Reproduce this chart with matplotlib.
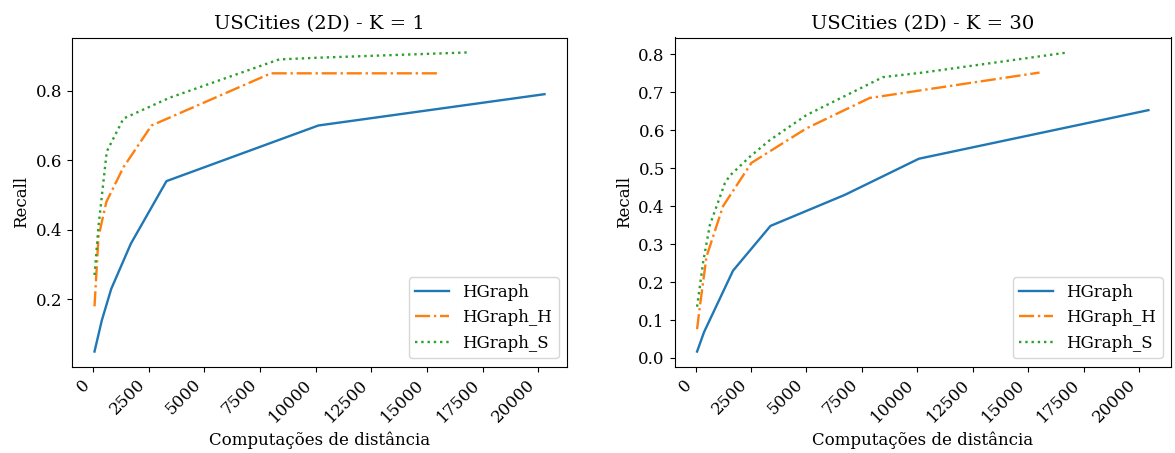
import matplotlib
matplotlib.use("Agg")
import matplotlib.pyplot as plt

plt.rcParams['font.family'] = ['DejaVu Serif']

# K = 1
k1_hgraph_x = [70, 400, 820, 1700, 3300, 10120, 20270]
k1_hgraph_y = [0.05, 0.14, 0.23, 0.36, 0.54, 0.70, 0.79]
k1_h_x = [70, 250, 600, 1370, 2630, 7990, 15470]
k1_h_y = [0.18, 0.38, 0.48, 0.58, 0.70, 0.85, 0.85]
k1_s_x = [70, 250, 620, 1370, 3450, 8360, 10150, 16800]
k1_s_y = [0.27, 0.41, 0.625, 0.72, 0.78, 0.89, 0.895, 0.91]

# K = 30
k30_hgraph_x = [70, 390, 1690, 3380, 6740, 10070, 20420]
k30_hgraph_y = [0.017, 0.069, 0.23, 0.348, 0.43, 0.525, 0.653]
k30_h_x = [70, 195, 495, 1240, 2520, 5000, 7850, 15510]
k30_h_y = [0.076, 0.135, 0.267, 0.40, 0.514, 0.605, 0.685, 0.752]
k30_s_x = [70, 195, 345, 645, 1320, 1540, 2445, 3350, 5000, 8450, 10250, 16780]
k30_s_y = [0.135, 0.188, 0.253, 0.35, 0.46, 0.48, 0.53, 0.574, 0.64, 0.74, 0.752, 0.805]

labels = ['HGraph', 'HGraph_H', 'HGraph_S']
titles = ['USCities (2D) - K = 1', 'USCities (2D) - K = 30']
xticks = [0, 2500, 5000, 7500, 10000, 12500, 15000, 17500, 20000]

fig = plt.figure(figsize=(11.75, 4.53), dpi=100)
ax1 = fig.add_axes([72/1175, 1-366.5/453, 495/1175, 329/453])
ax2 = fig.add_axes([674.5/1175, 1-366.5/453, 496.5/1175, 329/453])

data = [
    [(k1_hgraph_x, k1_hgraph_y), (k1_h_x, k1_h_y), (k1_s_x, k1_s_y)],
    [(k30_hgraph_x, k30_hgraph_y), (k30_h_x, k30_h_y), (k30_s_x, k30_s_y)],
]
styles = ['-', '-.', ':']
colors = ['#1f77b4', '#ff7f0e', '#2ca02c']

for ax, series, title in zip([ax1, ax2], data, titles):
    for (x, y), ls, c, lab in zip(series, styles, colors, labels):
        ax.plot(x, y, linestyle=ls, color=c, label=lab, linewidth=1.7)
    ax.set_title(title, fontsize=14)
    ax.set_xlabel('Computações de distância', fontsize=12)
    ax.set_ylabel('Recall', fontsize=12)
    ax.set_xticks(xticks)
    ax.set_xticklabels([str(t) for t in xticks], rotation=45, ha='right', fontsize=12)
    ax.tick_params(axis='y', labelsize=12)
    ax.legend(loc='lower right', fontsize=12)

fig.savefig('out.png', dpi=100)
